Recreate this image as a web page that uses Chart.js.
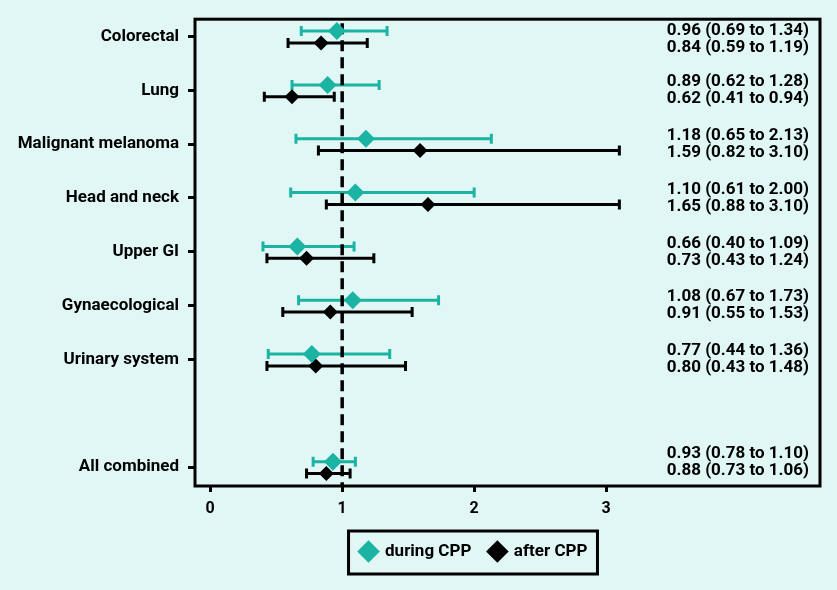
<!DOCTYPE html>
<html>
<head>
<meta charset="utf-8">
<script src="https://cdn.jsdelivr.net/npm/chart.js@4"></script>
<style>
  html, body { margin: 0; padding: 0; background: #e0f7f5; }
  #wrap { width: 837px; height: 590px; }
</style>
</head>
<body>
<div id="wrap"><canvas id="forest"></canvas></div>
<script>
const categories = ['Colorectal', 'Lung', 'Malignant melanoma', 'Head and neck', 'Upper GI', 'Gynaecological', 'Urinary system', 'All combined'];
const rowPos = [0, 1, 2, 3, 4, 5, 6, 8];
const duringEst = [0.96, 0.89, 1.18, 1.10, 0.66, 1.08, 0.77, 0.93];
const duringLo = [0.69, 0.62, 0.65, 0.61, 0.40, 0.67, 0.44, 0.78];
const duringHi = [1.34, 1.28, 2.13, 2.00, 1.09, 1.73, 1.36, 1.10];
const afterEst = [0.84, 0.62, 1.59, 1.65, 0.73, 0.91, 0.80, 0.88];
const afterLo = [0.59, 0.41, 0.82, 0.88, 0.43, 0.55, 0.43, 0.73];
const afterHi = [1.19, 0.94, 3.10, 3.10, 1.24, 1.53, 1.48, 1.06];
const xTicks = [0, 1, 2, 3];

const TEAL = '#1bb3a2';
const FONT = 'Roboto, "DejaVu Sans", sans-serif';

function fmt(e, lo, hi) {
  return e.toFixed(2) + ' (' + lo.toFixed(2) + ' to ' + hi.toFixed(2) + ')';
}

// error bars, reference line, right-hand estimates and frame
const forestPlugin = {
  id: 'forest',
  afterLayout(chart) {
    // legend sits a bit right of centre in the original
    chart.legend.left += 64;
    chart.legend.right += 64;
  },
  beforeDatasetsDraw(chart) {
    const ctx = chart.ctx;
    const xs = chart.scales.x, ys = chart.scales.y;
    const area = chart.chartArea;
    chart.data.datasets.forEach(ds => {
      ctx.save();
      ctx.strokeStyle = ds.borderColor;
      ctx.lineWidth = 3;
      ds.data.forEach(p => {
        const y = ys.getPixelForValue(p.y);
        const x1 = xs.getPixelForValue(p.lo), x2 = xs.getPixelForValue(p.hi);
        ctx.beginPath();
        ctx.moveTo(x1, y); ctx.lineTo(x2, y);
        ctx.moveTo(x1, y - 5); ctx.lineTo(x1, y + 5);
        ctx.moveTo(x2, y - 5); ctx.lineTo(x2, y + 5);
        ctx.stroke();
      });
      ctx.restore();
    });
    // dashed line at 1
    const x1 = xs.getPixelForValue(1);
    ctx.save();
    ctx.strokeStyle = '#000';
    ctx.lineWidth = 3.5;
    ctx.setLineDash([11, 6]);
    ctx.beginPath();
    ctx.moveTo(x1, area.top + 4);
    ctx.lineTo(x1, area.bottom);
    ctx.stroke();
    ctx.restore();
  },
  afterDraw(chart) {
    const ctx = chart.ctx;
    const ys = chart.scales.y;
    const area = chart.chartArea;
    ctx.save();
    ctx.fillStyle = '#000';
    ctx.font = 'bold 17px ' + FONT;
    ctx.textAlign = 'right';
    ctx.textBaseline = 'middle';
    rowPos.forEach((pos, i) => {
      let c = ys.getPixelForValue(pos);
      // keep the pair of lines inside the frame
      c = Math.max(c, area.top + 12 + 8.5);
      c = Math.min(c, area.bottom - 15 - 8.5);
      ctx.fillText(fmt(duringEst[i], duringLo[i], duringHi[i]), area.right - 11, c - 8.5);
      ctx.fillText(fmt(afterEst[i], afterLo[i], afterHi[i]), area.right - 11, c + 8.5);
    });
    // plot frame
    ctx.strokeStyle = '#000';
    ctx.lineWidth = 3;
    ctx.strokeRect(area.left, area.top, area.right - area.left, area.bottom - area.top);
    // legend frame
    const boxes = chart.legend.legendHitBoxes;
    if (boxes && boxes.length) {
      let l = Infinity, r = -Infinity, t = Infinity, b = -Infinity;
      boxes.forEach(h => {
        l = Math.min(l, h.left); r = Math.max(r, h.left + h.width);
        t = Math.min(t, h.top); b = Math.max(b, h.top + h.height);
      });
      ctx.strokeRect(l - 12, t - 12, r - l + 22, b - t + 26);
    }
    ctx.restore();
  }
};

function series(est, lo, hi, off) {
  return rowPos.map((pos, i) => ({ x: est[i], y: pos + off, lo: lo[i], hi: hi[i] }));
}

new Chart(document.getElementById('forest').getContext('2d'), {
  type: 'scatter',
  data: {
    datasets: [
      {
        label: 'during CPP',
        data: series(duringEst, duringLo, duringHi, -0.1),
        pointStyle: 'rectRot',
        pointRadius: 9,
        backgroundColor: TEAL,
        borderColor: TEAL,
        borderWidth: 0
      },
      {
        label: 'after CPP',
        data: series(afterEst, afterLo, afterHi, 0.12),
        pointStyle: 'rectRot',
        pointRadius: 7.5,
        backgroundColor: '#000',
        borderColor: '#000',
        borderWidth: 0
      }
    ]
  },
  options: {
    responsive: true,
    maintainAspectRatio: false,
    animation: false,
    layout: { padding: { left: 0, right: 17, top: 17, bottom: 20 } },
    plugins: {
      tooltip: { enabled: false },
      legend: {
        position: 'bottom',
        labels: {
          usePointStyle: true,
          pointStyle: 'rectRot',
          boxWidth: 16,
          boxHeight: 16,
          padding: 18,
          color: '#000',
          font: { family: FONT, size: 17, weight: 'bold' }
        }
      }
    },
    scales: {
      x: {
        type: 'linear',
        min: -0.115,
        max: 4.62,
        afterBuildTicks: s => { s.ticks = xTicks.map(v => ({ value: v })); },
        afterFit: s => { s.height = 39; },
        grid: { drawOnChartArea: false, tickLength: 6, tickWidth: 3, tickColor: '#000' },
        border: { display: false },
        ticks: { color: '#000', padding: 7, font: { family: FONT, size: 16, weight: 'bold' } }
      },
      y: {
        type: 'linear',
        reverse: true,
        min: -0.32,
        max: 8.35,
        afterBuildTicks: s => { s.ticks = rowPos.map(v => ({ value: v })); },
        afterFit: s => { s.width = 195; },
        grid: { drawOnChartArea: false, tickLength: 7, tickWidth: 3, tickColor: '#000' },
        border: { display: false },
        ticks: {
          color: '#000',
          padding: 9,
          font: { family: FONT, size: 17, weight: 'bold' },
          callback: v => categories[rowPos.indexOf(v)]
        }
      }
    }
  },
  plugins: [forestPlugin]
});
</script>
</body>
</html>
